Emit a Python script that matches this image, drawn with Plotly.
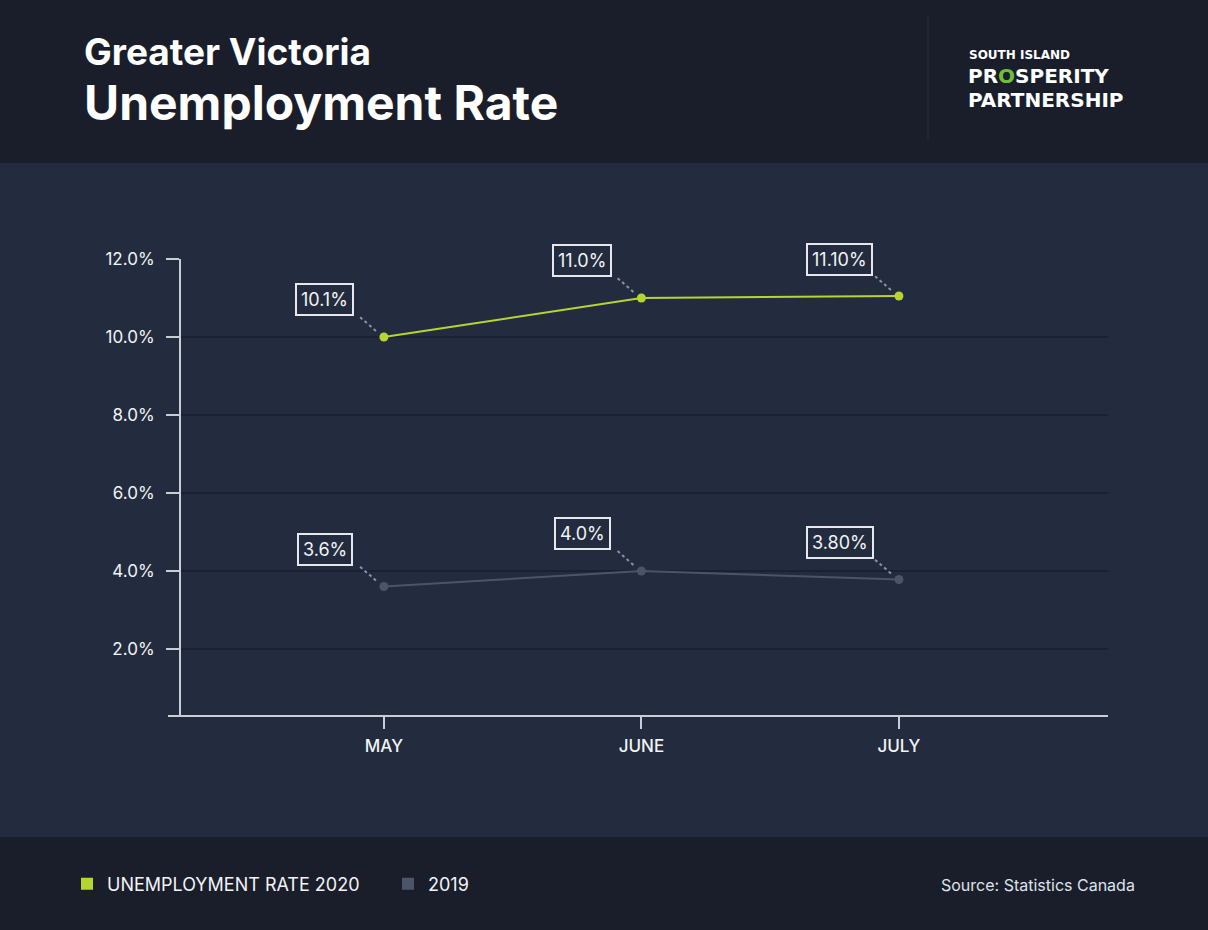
import plotly.graph_objects as go

months = ["MAY", "JUNE", "JULY"]
rate_2020 = [10.0, 11.0, 11.05]
rate_2019 = [3.6, 4.0, 3.78]
labels_2020 = ["10.1%", "11.0%", "11.10%"]
labels_2019 = ["3.6%", "4.0%", "3.80%"]
y_ticks = [2, 4, 6, 8, 10, 12]
y_ticktext = ["2.0%", "4.0%", "6.0%", "8.0%", "10.0%", "12.0%"]

HEADER_BG = "#1a1e2b"
CHART_BG = "#222c3e"
GRID = "#1a2131"
AXIS = "#c9cdd6"
GREEN = "#b6d531"
GREY = "#4c5568"
WHITE = "#f2f3f6"
FONT = "Inter"
LOGO_FONT = "DejaVu Sans"

W, H = 1208, 930
L, R, T, B = 181, 100, 259, 214
pw, ph = W - L - R, H - T - B


def px(xpix):
    return (xpix - L) / pw


def py(ypix):
    return (H - B - ypix) / ph


fig = go.Figure()

fig.add_trace(go.Scatter(x=months, y=rate_2020, mode="lines+markers",
                         line=dict(color=GREEN, width=2),
                         marker=dict(color=GREEN, size=9),
                         showlegend=False, hoverinfo="skip"))
fig.add_trace(go.Scatter(x=months, y=rate_2019, mode="lines+markers",
                         line=dict(color=GREY, width=2),
                         marker=dict(color=GREY, size=9),
                         showlegend=False, hoverinfo="skip"))
# legend entries
fig.add_trace(go.Scatter(x=[None], y=[None], mode="markers", name="UNEMPLOYMENT RATE 2020",
                         marker=dict(color=GREEN, size=12, symbol="square")))
fig.add_trace(go.Scatter(x=[None], y=[None], mode="markers", name="2019",
                         marker=dict(color=GREY, size=12, symbol="square")))

shapes = []
# background bands
shapes.append(dict(type="rect", xref="paper", yref="paper", x0=px(0), x1=px(W), y0=py(837), y1=py(163),
                   fillcolor=CHART_BG, line=dict(width=0), layer="below"))
# header separator
shapes.append(dict(type="line", xref="paper", yref="paper", x0=px(928), x1=px(928), y0=py(16), y1=py(140),
                   line=dict(color="#262c3a", width=1), layer="below"))
# x axis line extended left
shapes.append(dict(type="line", xref="paper", yref="paper", x0=px(168), x1=1, y0=0, y1=0,
                   line=dict(color=AXIS, width=2), layer="above"))

annotations = []
for series, labs in ((rate_2020, labels_2020), (rate_2019, labels_2019)):
    for m, v, t in zip(months, series, labs):
        annotations.append(dict(x=m, y=v, xref="x", yref="y", text=t, showarrow=False,
                                xshift=-59, yshift=37,
                                font=dict(family=FONT, size=18, color=WHITE),
                                bgcolor=CHART_BG, bordercolor="#e6e8ee", borderwidth=2, borderpad=4))
        shapes.append(dict(type="line", xref="x", yref="y", xsizemode="pixel", ysizemode="pixel",
                           xanchor=m, yanchor=v, x0=-8, x1=-24, y0=6, y1=20,
                           line=dict(color="#8a93a5", width=2, dash="dot"), layer="above"))

# Title
annotations.append(dict(text="<b>Greater Victoria</b>", xref="paper", yref="paper", x=px(82), y=py(52),
                        xanchor="left", yanchor="middle", showarrow=False,
                        font=dict(family=FONT, size=37, color="#ffffff")))
annotations.append(dict(text="<b>Unemployment Rate</b>", xref="paper", yref="paper", x=px(82), y=py(102),
                        xanchor="left", yanchor="middle", showarrow=False,
                        font=dict(family=FONT, size=48, color="#ffffff")))
# Logo
annotations.append(dict(text="<b>SOUTH ISLAND</b>", xref="paper", yref="paper", x=px(967), y=py(55),
                        xanchor="left", yanchor="middle", showarrow=False,
                        font=dict(family=LOGO_FONT, size=12, color="#ffffff")))
annotations.append(dict(text="<b>PR<span style='color:#6fbf3a'>O</span>SPERITY</b>",
                        xref="paper", yref="paper", x=px(966), y=py(76), xanchor="left", yanchor="middle",
                        showarrow=False, font=dict(family=LOGO_FONT, size=20, color="#ffffff")))
annotations.append(dict(text="<b>PARTNERSHIP</b>",
                        xref="paper", yref="paper", x=px(966), y=py(100), xanchor="left", yanchor="middle",
                        showarrow=False, font=dict(family=LOGO_FONT, size=20, color="#ffffff")))
# Source
annotations.append(dict(text="Source: Statistics Canada", xref="paper", yref="paper", x=px(1137), y=py(885),
                        xanchor="right", yanchor="middle", showarrow=False,
                        font=dict(family=FONT, size=16, color="#dfe2e8")))

fig.update_layout(
    width=W, height=H,
    margin=dict(l=L, r=R, t=T, b=B, pad=0),
    paper_bgcolor=HEADER_BG, plot_bgcolor=CHART_BG,
    shapes=shapes, annotations=annotations,
    showlegend=True,
    legend=dict(orientation="h", xref="container", yref="container",
                x=67 / W, y=(H - 884) / H, xanchor="left", yanchor="middle",
                font=dict(family=FONT, size=18, color=WHITE), bgcolor="rgba(0,0,0,0)",
                itemwidth=30, entrywidth=276, entrywidthmode="pixels", itemclick=False),
    font=dict(family=FONT),
)

fig.update_xaxes(type="category", range=[-0.788, 2.812], showgrid=False, zeroline=False,
                 showline=False, ticks="outside", ticklen=12, tickwidth=2, tickcolor=AXIS,
                 ticklabelstandoff=3,
                 tickfont=dict(family=FONT, size=17, color=WHITE, weight=500), fixedrange=True)
fig.update_yaxes(range=[0.28, 12.0], tickvals=y_ticks, ticktext=y_ticktext,
                 showgrid=True, gridcolor=GRID, gridwidth=2, zeroline=False,
                 showline=True, linecolor=AXIS, linewidth=2,
                 ticks="outside", ticklen=13, tickwidth=2, tickcolor=AXIS,
                 ticklabelstandoff=8,
                 tickfont=dict(family=FONT, size=17, color=WHITE), fixedrange=True)

fig.write_html("out.html")
